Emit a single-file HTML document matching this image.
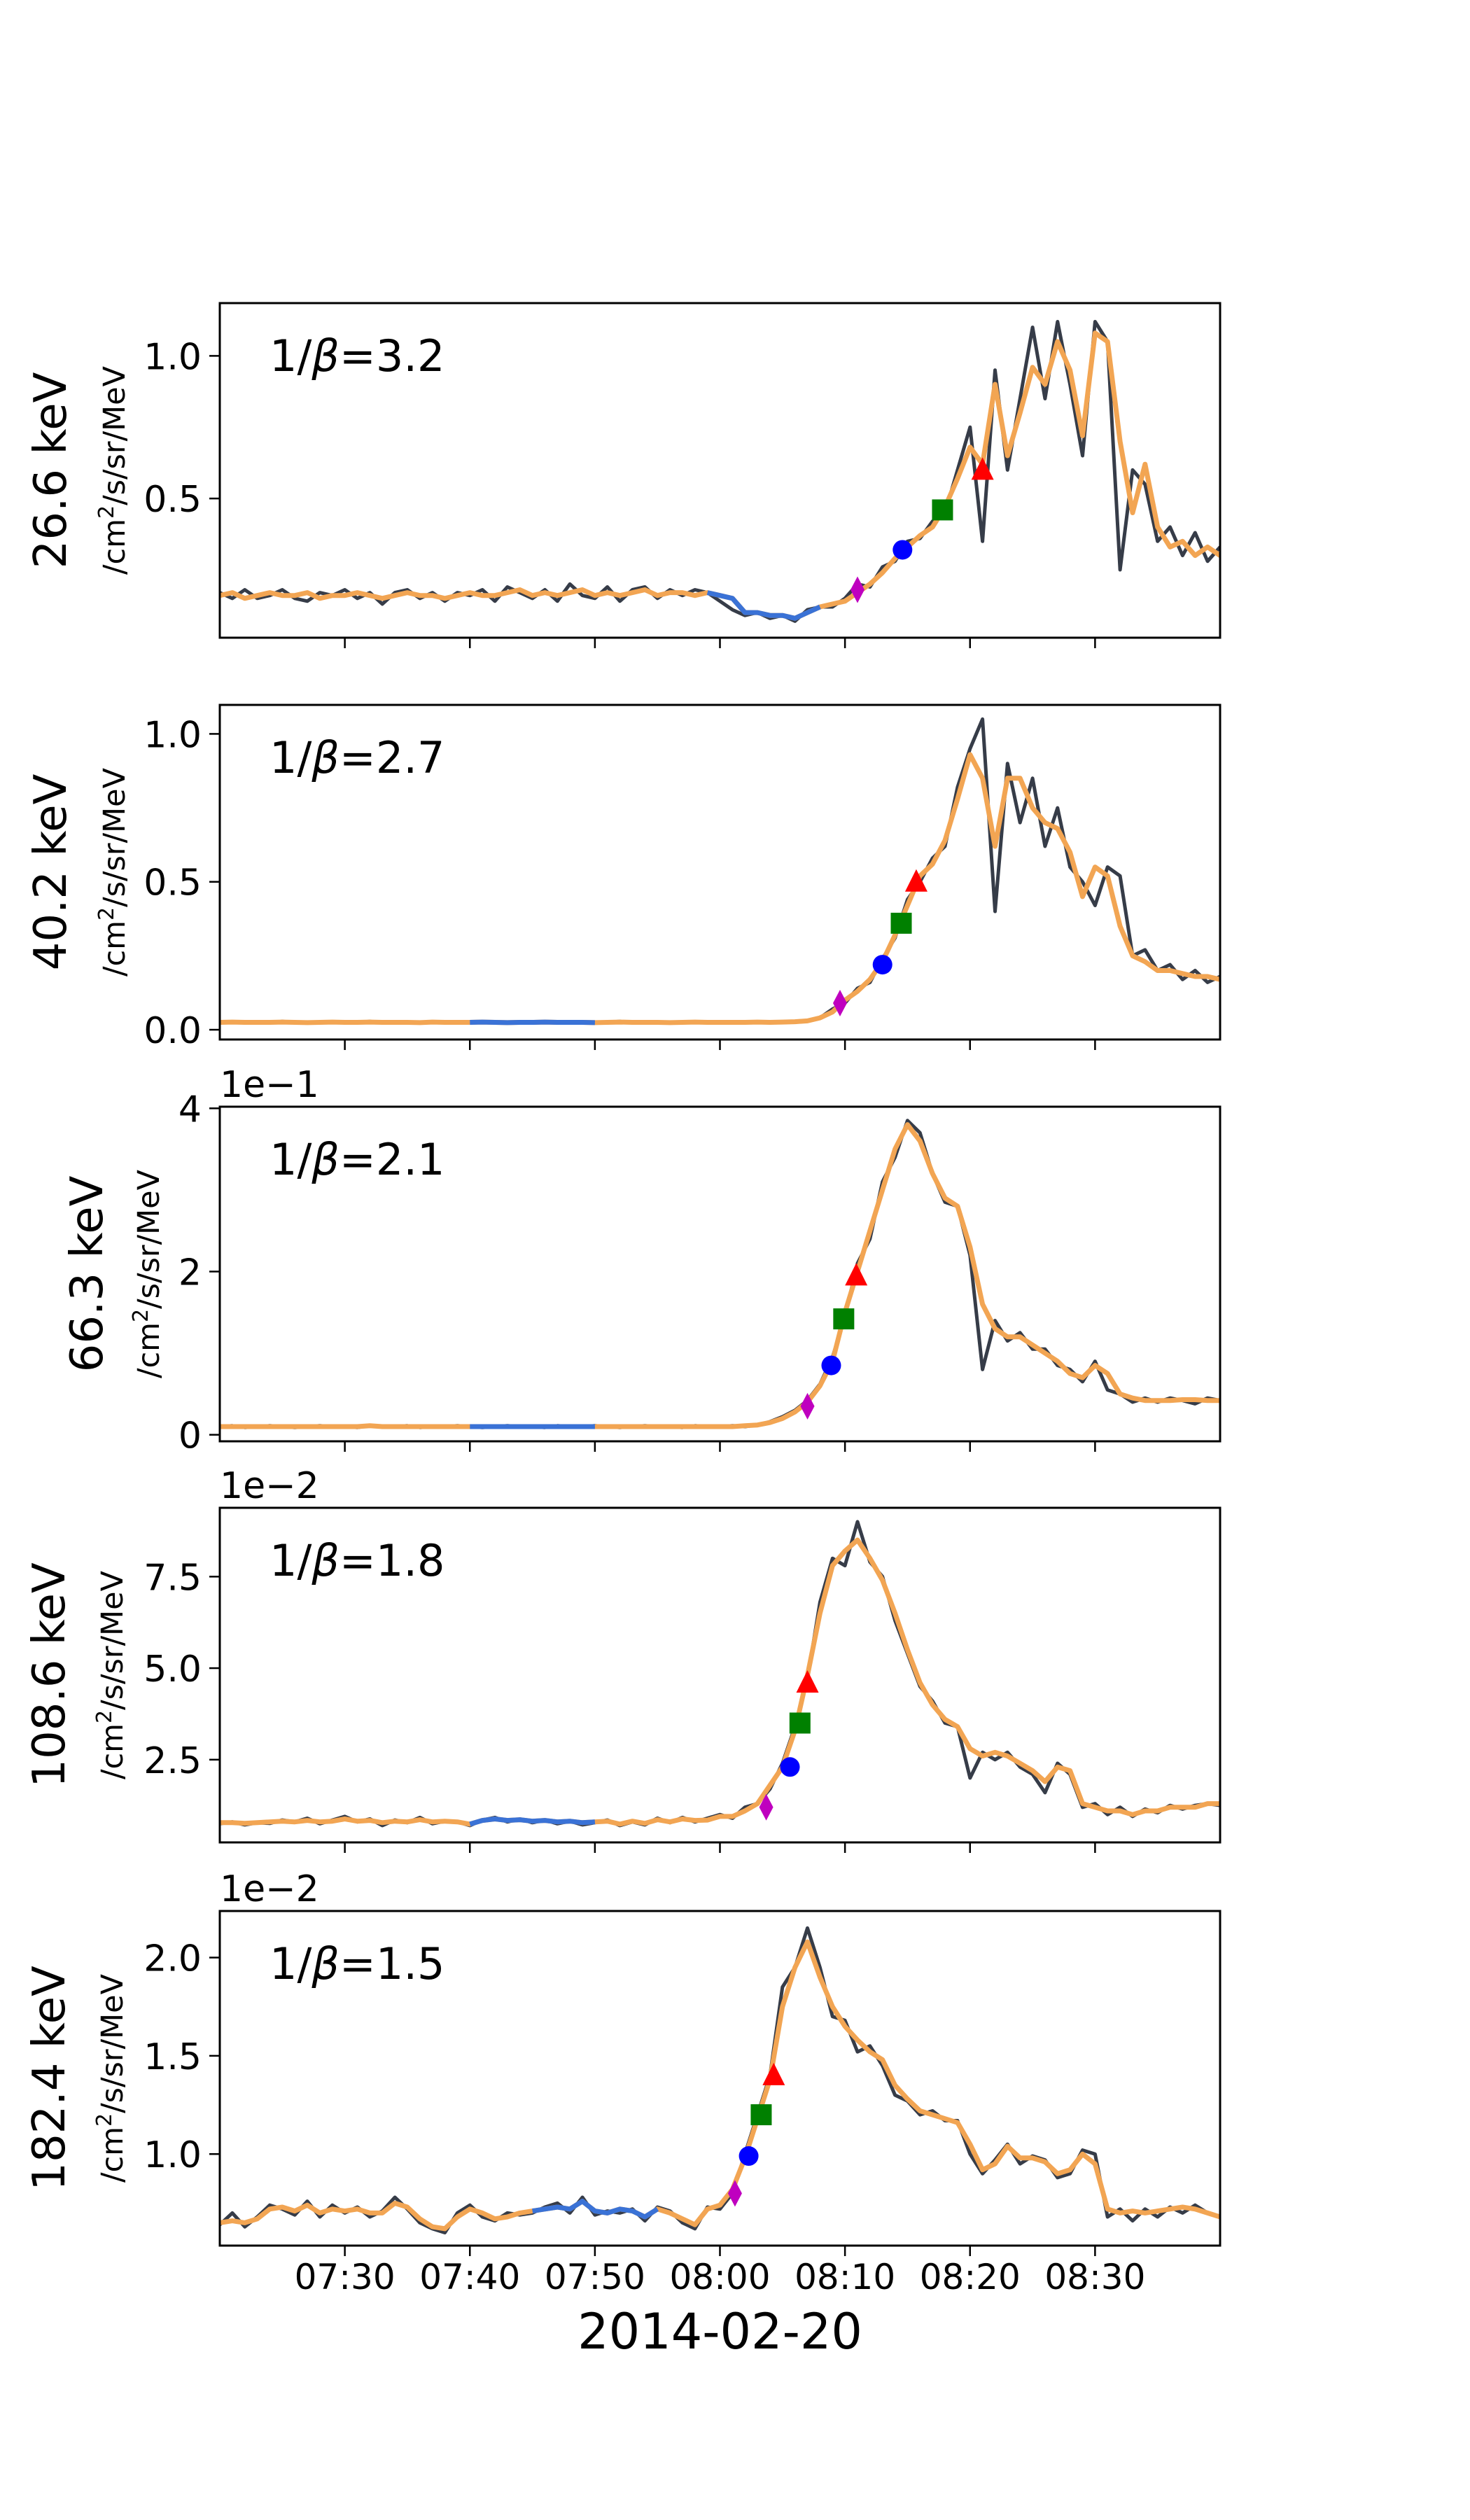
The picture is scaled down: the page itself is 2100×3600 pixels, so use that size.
<!DOCTYPE html>
<html><head><meta charset="utf-8">
<style>
html,body{margin:0;padding:0;background:#fff;}
svg{display:block;font-family:"DejaVu Sans","Liberation Sans",sans-serif;}
</style></head>
<body>
<svg id="fig" width="2100" height="3600" viewBox="0 0 2100 3600" xmlns="http://www.w3.org/2000/svg">
<rect x="0" y="0" width="2100" height="3600" fill="#fff"/>
</svg>
<script>
// ---- data (time in minutes since 07:20) ----
const xTickLabels = ["07:30","07:40","07:50","08:00","08:10","08:20","08:30"];
const xTickMinutes = [10,20,30,40,50,60,70];
const energyLabels = ["26.6 keV","40.2 keV","66.3 keV","108.6 keV","182.4 keV"];
const betaLabels = ["1/\u03B2=3.2","1/\u03B2=2.7","1/\u03B2=2.1","1/\u03B2=1.8","1/\u03B2=1.5"];
const offsetLabels = ["","","1e\u22121","1e\u22122","1e\u22122"];
const yTicks1 = [0.5,1.0]; const yTickLabels1 = ["0.5","1.0"];
const yTicks2 = [0,0.5,1.0]; const yTickLabels2 = ["0.0","0.5","1.0"];
const yTicks3 = [0,2,4]; const yTickLabels3 = ["0","2","4"];
const yTicks4 = [2.5,5.0,7.5]; const yTickLabels4 = ["2.5","5.0","7.5"];
const yTicks5 = [1.0,1.5,2.0]; const yTickLabels5 = ["1.0","1.5","2.0"];

const raw1 = [0.17,0.15,0.18,0.15,0.16,0.18,0.15,0.14,0.17,0.16,0.18,0.15,0.17,0.13,0.17,0.18,0.15,0.17,0.14,0.17,0.16,0.18,0.14,0.19,0.17,0.15,0.18,0.14,0.20,0.16,0.15,0.19,0.14,0.18,0.19,0.15,0.18,0.16,0.18,
0.17,0.14,0.11,0.09,0.10,0.08,0.09,0.07,0.11,0.12,
0.12,0.15,0.20,0.19,0.26,0.28,0.35,0.36,0.42,0.45,0.60,0.75,0.35,0.95,0.60,0.85,1.10,0.85,1.12,0.90,0.65,1.12,1.05,0.25,0.60,0.55,0.35,0.40,0.30,0.38,0.28,0.33];
const smooth1 = [0.16,0.17,0.15,0.16,0.17,0.16,0.16,0.17,0.15,0.16,0.16,0.17,0.16,0.15,0.16,0.17,0.16,0.16,0.15,0.16,0.17,0.16,0.16,0.17,0.18,0.16,0.17,0.16,0.17,0.18,0.16,0.17,0.16,0.17,0.18,0.16,0.17,0.17,0.16,
0.17,0.16,0.15,0.10,0.10,0.09,0.09,0.08,0.10,0.12,
0.13,0.14,0.17,0.20,0.24,0.29,0.33,0.37,0.40,0.47,0.57,0.68,0.62,0.90,0.65,0.80,0.96,0.90,1.05,0.95,0.72,1.08,1.05,0.70,0.45,0.62,0.40,0.33,0.35,0.30,0.33,0.30];

const raw2 = [0.025,0.027,0.023,0.026,0.024,0.028,0.025,0.023,0.026,0.027,0.024,0.025,0.028,0.024,0.026,0.025,0.023,0.027,0.025,0.026,0.024,0.027,0.025,0.023,0.026,0.025,0.027,0.024,0.026,0.025,0.023,0.026,0.028,0.024,0.025,0.026,0.023,0.025,0.027,0.024,0.026,0.025,0.024,0.027,0.025,0.026,0.028,
0.03,0.04,0.07,0.09,0.14,0.16,0.24,0.31,0.44,0.50,0.58,0.62,0.82,0.95,1.05,0.40,0.90,0.70,0.85,0.62,0.75,0.55,0.50,0.42,0.55,0.52,0.25,0.27,0.20,0.22,0.17,0.20,0.16,0.18];
const smooth2 = [0.025,0.026,0.025,0.025,0.025,0.026,0.025,0.024,0.025,0.026,0.025,0.025,0.026,0.025,0.025,0.025,0.024,0.026,0.025,0.025,0.025,0.026,0.025,0.024,0.025,0.025,0.026,0.025,0.025,0.025,0.024,0.025,0.026,0.025,0.025,0.025,0.024,0.025,0.026,0.025,0.025,0.025,0.025,0.026,0.025,0.026,0.027,
0.03,0.04,0.06,0.10,0.13,0.17,0.23,0.32,0.42,0.52,0.56,0.64,0.78,0.93,0.85,0.62,0.85,0.85,0.75,0.70,0.68,0.60,0.45,0.55,0.52,0.35,0.25,0.23,0.20,0.20,0.19,0.18,0.18,0.17];

const raw3 = [0.10,0.11,0.09,0.10,0.11,0.10,0.09,0.10,0.11,0.10,0.10,0.09,0.11,0.10,0.10,0.11,0.09,0.10,0.10,0.11,0.10,0.09,0.10,0.11,0.10,0.10,0.09,0.11,0.10,0.10,0.11,0.10,0.09,0.10,0.11,0.10,0.10,0.09,0.11,0.10,0.10,0.11,0.10,
0.12,0.16,0.22,0.30,0.42,0.62,0.95,1.45,2.1,2.4,3.1,3.4,3.85,3.7,3.2,2.85,2.8,2.2,0.8,1.4,1.15,1.25,1.05,1.05,0.85,0.8,0.65,0.9,0.55,0.5,0.40,0.45,0.40,0.45,0.42,0.38,0.45,0.42];
const smooth3 = [0.10,0.10,0.10,0.10,0.10,0.10,0.10,0.10,0.10,0.10,0.10,0.10,0.11,0.10,0.10,0.10,0.10,0.10,0.10,0.10,0.10,0.10,0.10,0.10,0.10,0.10,0.10,0.10,0.10,0.10,0.10,0.10,0.10,0.10,0.10,0.10,0.10,0.10,0.10,0.10,0.10,0.10,0.11,
0.12,0.15,0.2,0.28,0.4,0.6,0.9,1.5,2.0,2.5,3.0,3.5,3.8,3.6,3.2,2.9,2.8,2.3,1.6,1.3,1.2,1.2,1.1,1.0,0.9,0.75,0.7,0.85,0.75,0.5,0.45,0.42,0.42,0.42,0.43,0.43,0.42,0.42];

const raw4 = [0.75,0.80,0.72,0.78,0.76,0.85,0.80,0.90,0.75,0.85,0.95,0.80,0.88,0.70,0.85,0.78,0.92,0.75,0.82,0.80,0.70,0.85,0.92,0.80,0.88,0.78,0.85,0.75,0.82,0.72,0.78,0.85,0.70,0.80,0.72,0.90,0.78,0.92,0.80,
0.9,1.0,0.9,1.2,1.3,1.7,2.4,3.4,4.7,6.8,8.0,7.8,9.0,7.9,7.5,6.3,5.4,4.5,4.1,3.5,3.4,2.0,2.7,2.5,2.7,2.3,2.1,1.6,2.4,2.1,1.2,1.3,1.0,1.2,0.95,1.15,1.05,1.25,1.15,1.25,1.3,1.25];
const smooth4 = [0.78,0.78,0.76,0.78,0.80,0.82,0.80,0.84,0.80,0.82,0.88,0.82,0.84,0.78,0.82,0.80,0.86,0.80,0.82,0.80,0.74,0.84,0.88,0.84,0.86,0.82,0.84,0.80,0.82,0.78,0.80,0.82,0.74,0.82,0.76,0.86,0.80,0.88,0.84,
0.85,0.95,0.95,1.1,1.3,1.8,2.3,3.3,4.8,6.5,7.8,8.2,8.5,8.0,7.4,6.5,5.5,4.6,4.0,3.6,3.4,2.8,2.6,2.7,2.6,2.4,2.2,1.9,2.3,2.2,1.3,1.2,1.1,1.1,1.0,1.1,1.1,1.2,1.2,1.2,1.3,1.3];

const raw5 = [0.64,0.70,0.63,0.68,0.74,0.72,0.69,0.76,0.68,0.74,0.70,0.73,0.68,0.71,0.78,0.72,0.65,0.62,0.60,0.70,0.74,0.68,0.66,0.70,0.69,0.70,0.73,0.75,0.70,0.78,0.69,0.71,0.70,0.72,0.66,0.73,0.71,0.65,0.62,0.73,
0.72,0.80,1.0,1.2,1.4,1.85,1.95,2.15,1.95,1.7,1.68,1.52,1.55,1.45,1.30,1.27,1.20,1.22,1.17,1.17,1.0,0.90,0.97,1.05,0.95,0.99,0.97,0.88,0.90,1.02,1.0,0.68,0.72,0.66,0.72,0.68,0.73,0.70,0.74,0.70,0.68];
const smooth5 = [0.65,0.66,0.65,0.67,0.72,0.73,0.71,0.74,0.70,0.72,0.71,0.72,0.70,0.70,0.75,0.73,0.67,0.63,0.62,0.68,0.72,0.70,0.67,0.68,0.70,0.71,0.72,0.73,0.72,0.76,0.71,0.70,0.72,0.71,0.68,0.72,0.70,0.67,0.64,0.72,
0.74,0.82,0.98,1.18,1.38,1.75,1.95,2.08,1.9,1.75,1.65,1.58,1.52,1.48,1.35,1.28,1.22,1.2,1.18,1.16,1.05,0.92,0.95,1.04,0.98,0.98,0.96,0.9,0.92,1.0,0.95,0.72,0.70,0.71,0.70,0.71,0.72,0.73,0.72,0.70,0.68];

const blueStart = [39,20,20,20,25];
const blueEnd = [48,30,30,30,35];
const markerTimes1 = [51,54.6,57.8,61];      const markerVals1 = [0.18,0.32,0.46,0.60];
const markerTimes2 = [49.6,53,54.5,55.7];    const markerVals2 = [0.09,0.22,0.36,0.50];
const markerTimes3 = [47,48.9,49.9,50.9];    const markerVals3 = [0.35,0.85,1.42,1.95];
const markerTimes4 = [43.7,45.6,46.4,47];    const markerVals4 = [1.2,2.3,3.5,4.6];
const markerTimes5 = [41.2,42.3,43.3,44.3];  const markerVals5 = [0.8,0.99,1.2,1.4];
const yMin = [0.012,-0.033,-0.08,0.24,0.534];
const yMax = [1.185,1.098,4.02,9.38,2.237];

// ---- layout ----
const NS="http://www.w3.org/2000/svg";
const svg=document.getElementById('fig');
const L=314,R=1743,H=478;
const tops=[433,1007,1581,2154,2730];
const xMin=0,xMax=80;
function xs(t){return L+(t-xMin)/(xMax-xMin)*(R-L);}
function mk(tag,attrs,parent){const e=document.createElementNS(NS,tag);for(const k in attrs)e.setAttribute(k,attrs[k]);(parent||svg).appendChild(e);return e;}

const raws=[raw1,raw2,raw3,raw4,raw5];
const smooths=[smooth1,smooth2,smooth3,smooth4,smooth5];
const yTicksAll=[yTicks1,yTicks2,yTicks3,yTicks4,yTicks5];
const yTickLabelsAll=[yTickLabels1,yTickLabels2,yTickLabels3,yTickLabels4,yTickLabels5];
const mT=[markerTimes1,markerTimes2,markerTimes3,markerTimes4,markerTimes5];
const mV=[markerVals1,markerVals2,markerVals3,markerVals4,markerVals5];
const labelX=[72,72,124,70,70], unitX=[163,163,212,160,160];

for(let p=0;p<5;p++){
  const top=tops[p], bot=top+H;
  const ys=v=>bot-(v-yMin[p])/(yMax[p]-yMin[p])*H;
  const g=mk('g',{});
  
  
  const cid='clip'+p;
  const cp=mk('clipPath',{id:cid},g); mk('rect',{x:L,y:top,width:R-L,height:H},cp);
  const plot=mk('g',{'clip-path':'url(#'+cid+')'},g);
  const rawPts=raws[p].map((v,i)=>xs(i).toFixed(1)+','+ys(v).toFixed(1)).join(' ');
  const rl=mk('polyline',{points:rawPts,fill:'none',stroke:'#363c48','stroke-width':5,'stroke-linejoin':'round'},plot);
  
  
  const sPts=smooths[p].map((v,i)=>xs(i).toFixed(1)+','+ys(v).toFixed(1)).join(' ');
  const sl=mk('polyline',{points:sPts,fill:'none',stroke:'#f2a553','stroke-width':7,'stroke-linejoin':'round','stroke-linecap':'round'},plot);
  
  
  const bPts=smooths[p].map((v,i)=>[i,v]).filter(d=>d[0]>=blueStart[p]&&d[0]<=blueEnd[p]).map(d=>xs(d[0]).toFixed(1)+','+ys(d[1]).toFixed(1)).join(' ');
  const bl=mk('polyline',{points:bPts,fill:'none',stroke:'#3a72d6','stroke-width':7,'stroke-linejoin':'round'},plot);
  
  
  const cols=['#bf00bf','#0000ff','#008000','#ff0000'];
  const names=['diamond-marker','circle-marker','square-marker','triangle-marker'];
  for(let k=0;k<4;k++){
    const cx=xs(mT[p][k]), cy=ys(mV[p][k]);
    let m;
    if(k===0) m=mk('polygon',{points:`${cx},${cy-19} ${cx+10},${cy} ${cx},${cy+19} ${cx-10},${cy}`,fill:cols[k]},g);
    else if(k===1) m=mk('circle',{cx:cx,cy:cy,r:14,fill:cols[k]},g);
    else if(k===2) m=mk('rect',{x:cx-15,y:cy-15,width:30,height:30,fill:cols[k]},g);
    else m=mk('polygon',{points:`${cx},${cy-18} ${cx+16},${cy+14} ${cx-16},${cy+14}`,fill:cols[k]},g);
    
    
  }
  const fr=mk('rect',{x:L,y:top,width:R-L,height:H,fill:'none',stroke:'#000','stroke-width':3},g);
  
  
  xTickMinutes.forEach((t,i)=>{
    const tk=mk('line',{x1:xs(t),x2:xs(t),y1:bot,y2:bot+15,stroke:'#000','stroke-width':2.5},g);
    
    
    if(p===4){
      const tl=mk('text',{x:xs(t),y:bot+62,'text-anchor':'middle','font-size':50},g);
      tl.textContent=xTickLabels[i];
      
      
    }
  });
  yTicksAll[p].forEach((v,i)=>{
    const y=ys(v);
    const tk=mk('line',{x1:L-15,x2:L,y1:y,y2:y,stroke:'#000','stroke-width':2.5},g);
    
    
    const tl=mk('text',{x:L-26,y:y+19,'text-anchor':'end','font-size':52},g);
    tl.textContent=yTickLabelsAll[p][i];
    
    
  });
  if(offsetLabels[p]){
    const o=mk('text',{x:L,y:top-14,'font-size':52},g);
    o.textContent=offsetLabels[p];
    
    
  }
  const cy=top+H/2;
  const el=mk('text',{x:0,y:0,'text-anchor':'middle','font-size':64,transform:`translate(${labelX[p]+22},${cy}) rotate(-90)`},g);
  el.textContent=energyLabels[p];
  
  
  const ul=mk('text',{x:0,y:0,'text-anchor':'middle','font-size':43,transform:`translate(${unitX[p]+15},${cy}) rotate(-90)`},g);
  ul.innerHTML='/cm<tspan dy="-16" font-size="30">2</tspan><tspan dy="16">/s/sr/MeV</tspan>';
  
  
  const bt=mk('text',{x:385,y:top+97,'font-size':62},g);
  bt.innerHTML=betaLabels[p].replace('\u03B2','<tspan font-style="italic">\u03B2</tspan>');
  
  
}
const xl=mk('text',{x:(L+R)/2,y:3355,'text-anchor':'middle','font-size':70});
xl.textContent='2014-02-20';


</script>
</body></html>
